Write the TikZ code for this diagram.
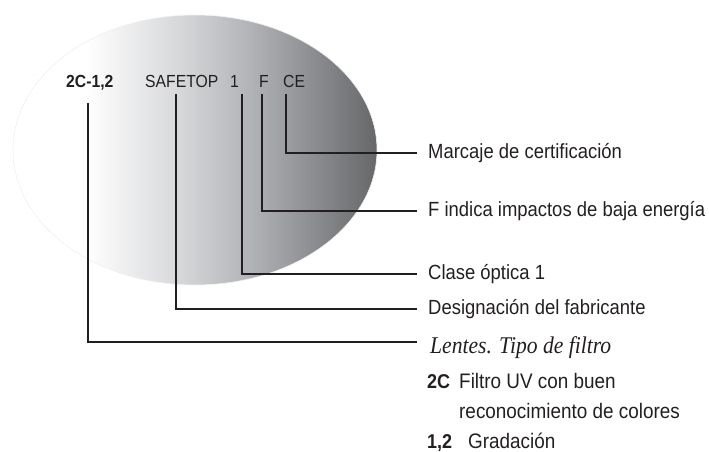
\documentclass[tikz,border=0pt]{standalone}
\usepackage{fontspec}
\setmainfont{Liberation Sans}[FakeStretch=0.9]
\newfontfamily\serifit{Liberation Serif}[FakeStretch=0.9]
\definecolor{ink}{HTML}{231F20}
\definecolor{lensB}{HTML}{D6D7D9}
\definecolor{lensC}{HTML}{B2B3B6}
\definecolor{lensD}{HTML}{949598}
\definecolor{lensE}{HTML}{666769}
\pgfdeclarehorizontalshading{lens}{100bp}{color(0bp)=(white); color(35bp)=(white); color(48bp)=(lensB); color(57.6bp)=(lensC); color(64.4bp)=(lensD); color(75bp)=(lensE); color(100bp)=(lensE)}
\begin{document}
\begin{tikzpicture}[x=1pt,y=-1pt,
  toplab/.style={anchor=base west, inner sep=0pt, text=ink, font=\fontsize{17.5}{19}\selectfont},
  lab/.style={anchor=west, inner xsep=11pt, inner ysep=0pt, text height=10.5pt, text depth=0pt, text=ink, font=\fontsize{20.5}{22}\selectfont},
  serlab/.style={anchor=west, inner xsep=13pt, inner ysep=0pt, text height=22pt, text depth=0pt, text=ink, font=\serifit\itshape\fontsize{24}{26}\selectfont},
  leg/.style={anchor=base west, inner sep=0pt, text=ink, font=\fontsize{21}{23}\selectfont},
  conn/.style={draw=ink, line width=2.2pt, line join=miter}]
\useasboundingbox (0,0) rectangle (709,452);
% lens
\shade[shading=lens, draw=gray!12, line width=0.6pt] (195,150) ellipse [x radius=182pt, y radius=135pt];
% top marking
\node[toplab, font=\bfseries\fontsize{17.5}{19}\selectfont] (t2c) at (66,88) {2C-1,2};
\node[toplab] (tsafe) at (145,88) {SAFETOP};
\node[toplab] (tone) at (230,88) {1};
\node[toplab] (tf) at (259,88) {F};
\node[toplab] (tce) at (283,88) {CE};
% connector start points
\coordinate (s2c) at (88,103);
\coordinate (ssafe) at (176,94);
\coordinate (sone) at (242,94);
\coordinate (sf) at (262,94);
\coordinate (sce) at (286,94);
% labels
\node[lab] (mce) at (417,153) {Marcaje de certificación};
\node[lab] (mf) at (417,211) {F indica impactos de baja energía};
\node[lab] (mone) at (417,274) {Clase óptica 1};
\node[lab] (msafe) at (417,309) {Designación del fabricante};
\node[serlab] (m2c) at (417,342) {Lentes. Tipo de filtro};
% connectors
\draw[conn] (sce) |- (mce.west);
\draw[conn] (sf) |- (mf.west);
\draw[conn] (sone) |- (mone.west);
\draw[conn] (ssafe) |- (msafe.west);
\draw[conn] (s2c) |- (m2c.west);
% legend
\node[leg, font=\bfseries\fontsize{20}{22}\selectfont] (k2c) at (427,388) {2C};
\node[leg] (d2ca) at (459,388) {Filtro UV con buen};
\node[leg] (d2cb) at (459,418) {reconocimiento de colores};
\node[leg, font=\bfseries\fontsize{20}{22}\selectfont] (k12) at (427,448) {1,2};
\node[leg] (d12) at (468,448) {Gradación};
\end{tikzpicture}
\end{document}
